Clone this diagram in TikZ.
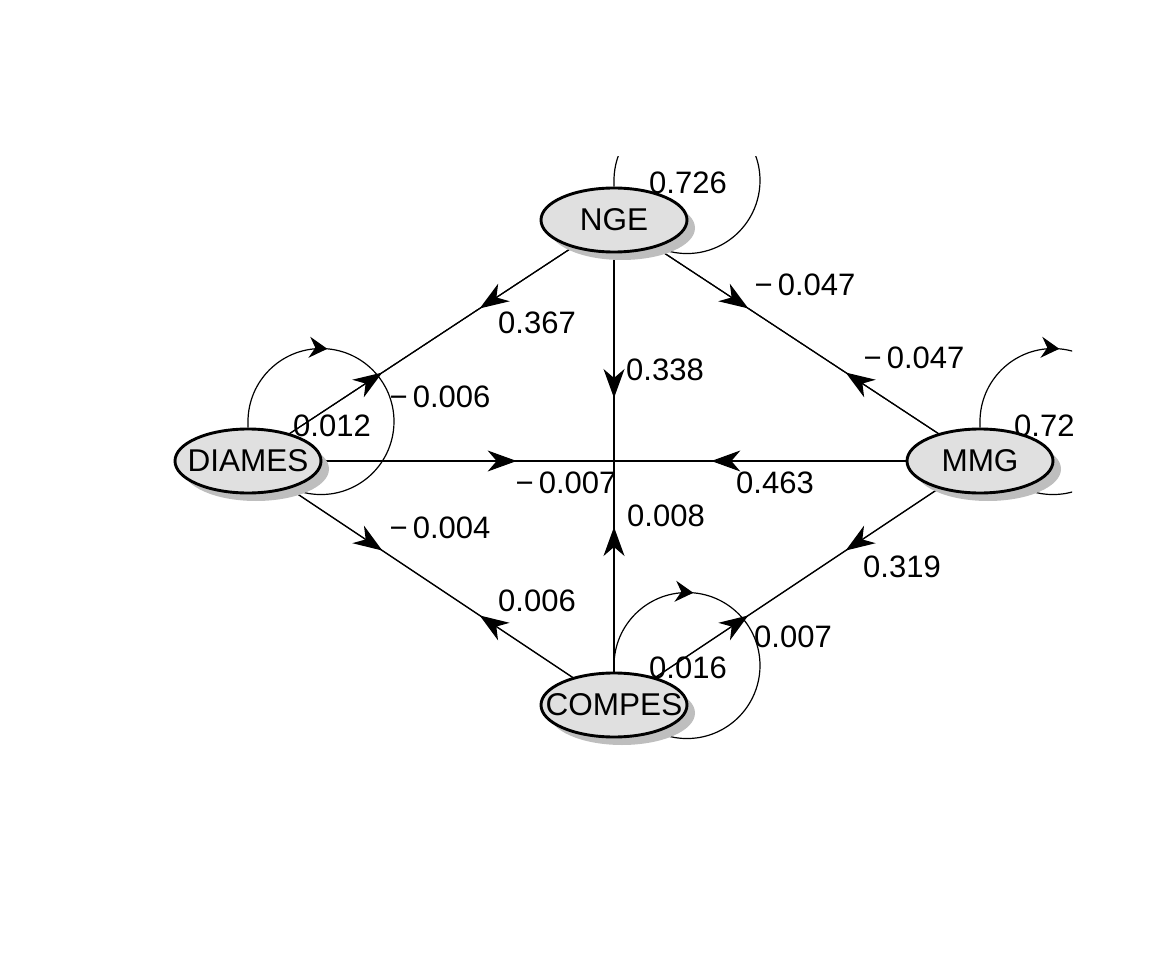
\documentclass[tikz,border=0pt]{standalone}
\usepackage{fontspec}
\setmainfont{Liberation Sans}
\usetikzlibrary{arrows.meta,decorations.markings,shadows,shapes.geometric}
\pgfdeclarelayer{bg}
\pgfsetlayers{bg,main}
\definecolor{nodefill}{RGB}{224,224,224}
\definecolor{shadowgray}{RGB}{190,190,190}
\newcommand{\mns}{\char"2212\,}
\newcommand{\ntext}[1]{\makebox[0pt]{#1}}
\begin{document}
\begin{tikzpicture}[x=1pt,y=-1pt,
  var/.style={ellipse, draw, line width=2.9pt, fill=nodefill, minimum width=146pt, minimum height=64pt, inner sep=0pt,
    font=\fontsize{31.5}{31.5}\selectfont,
    drop shadow={shadow xshift=8pt, shadow yshift=-8pt, fill=shadowgray, opacity=1}},
  dir/.style={line width=1.2pt,
    decoration={markings, mark=at position 0.367 with {\arrow{Stealth[length=29pt,width=21pt,inset=9pt]}}},
    postaction={decorate}},
  selfloop/.style={line width=1.2pt,
    decoration={markings, mark=at position 127pt with {\arrow{Stealth[length=18pt,width=21pt,inset=6pt]}}},
    postaction={decorate}},
  lab/.style={font=\fontsize{31}{31}\selectfont, inner sep=0pt, anchor=center}
]
\useasboundingbox (0,0) rectangle (1152,960);

\node[var] (NGE) at (614,220) {\ntext{NGE}};
\node[var] (DIAMES) at (248,461) {\ntext{DIAMES}};
\node[var] (MMG) at (980,461) {\ntext{MMG}};
\node[var] (COMPES) at (614,705) {\ntext{COMPES}};

\begin{pgfonlayer}{bg}
\begin{scope}
\clip (80,157) rectangle (1072,803);
% directed edges (center to center, covered by the nodes)
\draw[dir] (NGE.center) -- (DIAMES.center);
\draw[dir] (DIAMES.center) -- (NGE.center);
\draw[dir] (NGE.center) -- (MMG.center);
\draw[dir] (MMG.center) -- (NGE.center);
\draw[dir] (NGE.center) -- (COMPES.center);
\draw[dir] (COMPES.center) -- (NGE.center);
\draw[dir] (DIAMES.center) -- (MMG.center);
\draw[dir] (MMG.center) -- (DIAMES.center);
\draw[dir] (DIAMES.center) -- (COMPES.center);
\draw[dir] (COMPES.center) -- (DIAMES.center);
\draw[dir] (MMG.center) -- (COMPES.center);
\draw[dir] (COMPES.center) -- (MMG.center);
% self loops
\draw[selfloop] (NGE.north) -- ++(0,-6) arc[start angle=180, end angle=470, radius=73];
\draw[selfloop] (DIAMES.north) -- ++(0,-6) arc[start angle=180, end angle=470, radius=73];
\draw[selfloop] (MMG.north) -- ++(0,-6) arc[start angle=180, end angle=470, radius=73];
\draw[selfloop] (COMPES.north) -- ++(0,-6) arc[start angle=180, end angle=470, radius=73];
\end{scope}
\end{pgfonlayer}

\begin{scope}
\clip (80,157) rectangle (1072,803);
\node[lab] (lNGE) at (688,183) {0.726};
\node[lab] (lDIAMES) at (332,426) {0.012};
\node[lab] (lMMG) at (1053,426) {0.726};
\node[lab] (lCOMPES) at (688,668) {0.016};
\node[lab] (lND) at (537,323) {0.367};
\node[lab] (lDN) at (440,397) {\mns0.006};
\node[lab] (lNM) at (805,285) {\mns0.047};
\node[lab] (lMN) at (914,358) {\mns0.047};
\node[lab] (lNC) at (665,370) {0.338};
\node[lab] (lCN) at (666,516) {0.008};
\node[lab] (lDM) at (566,483) {\mns0.007};
\node[lab] (lMD) at (775,483) {0.463};
\node[lab] (lDC) at (440,528) {\mns0.004};
\node[lab] (lCD) at (537,601) {0.006};
\node[lab] (lMC) at (902,567) {0.319};
\node[lab] (lCM) at (793,637) {0.007};
\end{scope}
\end{tikzpicture}
\end{document}
